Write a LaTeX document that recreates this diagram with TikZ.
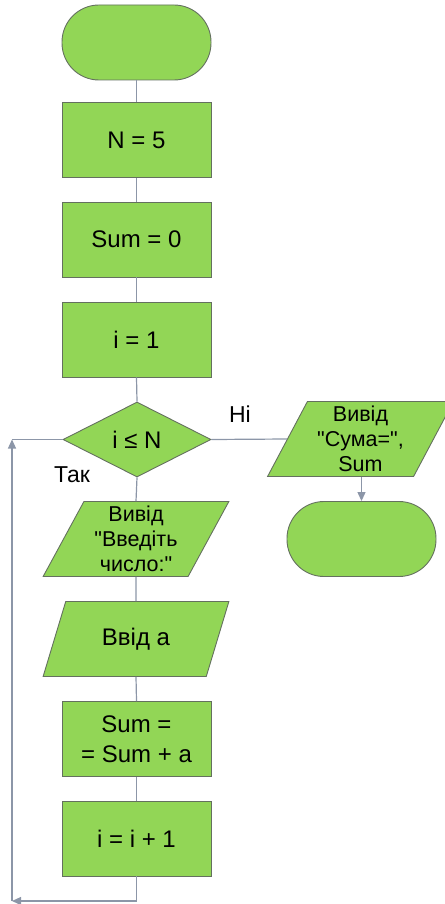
\documentclass[tikz,border=0pt]{standalone}
\usepackage{fontspec}
% plain family: keeps the straight " character
\newfontfamily\diagfont{Liberation Sans}
\usetikzlibrary{shapes.geometric,arrows.meta}
\definecolor{boxfill}{RGB}{146,214,86}
\definecolor{boxline}{RGB}{100,112,95}
\definecolor{wire}{RGB}{140,150,168}
\tikzset{
  shapebase/.style={draw=boxline, fill=boxfill, line width=0.9pt, inner sep=0pt,
    align=center, font=\diagfont\fontsize{24}{30}\selectfont},
  procbox/.style={shapebase, rectangle, minimum width=149pt, minimum height=75pt},
  termbox/.style={shapebase, rectangle, rounded corners=37pt,
    minimum width=149pt, minimum height=75pt},
  decbox/.style={shapebase, diamond, minimum width=148pt, minimum height=75pt},
  iobox/.style={shapebase, trapezium, trapezium left angle=63.7,
    trapezium right angle=116.3, trapezium stretches=true,
    minimum width=186pt, minimum height=75pt},
  iotext/.style={font=\diagfont\fontsize{21.5}{25}\selectfont},
  wireline/.style={draw=wire, line width=1.2pt},
  wirearrow/.style={wireline, -{Triangle[length=9pt,width=8pt]}},
  tag/.style={font=\diagfont\fontsize{23}{28}\selectfont}
}
\begin{document}
\begin{tikzpicture}[x=1pt,y=-1pt]
\useasboundingbox (0,0) rectangle (444,904);

% main column
\node[termbox]  (start) at (136.5,42.5) {};
\node[procbox]  (n)     at (136.5,140)  {N = 5};
\node[procbox]  (s)     at (136.5,239.5){Sum = 0};
\node[procbox]  (i)     at (136.5,339.5){i = 1};
\node[decbox]   (cond)  at (137,439.5)  {i ≤ N};
\node[iobox,iotext] (out) at (136,539)  {Вивід\\"Введіть\\число:"};
\node[iobox]    (inp)   at (136,639)    {Ввід a};
\node[procbox]  (add)   at (136.5,739)  {Sum =\\= Sum + a};
\node[procbox]  (inc)   at (136.5,838.5){i = i + 1};

% exit branch
\node[iobox,iotext] (res) at (360.5,439) {Вивід\\"Сума=",\\Sum};
\node[termbox]  (stop)  at (361.5,539)  {};

% loop corners
\coordinate (cb) at (12,901);
\coordinate (ct) at (12,439.5);

% labels
\node[tag] (yes) at (72,475) {Так};
\node[tag] (no)  at (240,414) {Ні};

% connectors
\draw[wireline] (start.south) -- (n.north);
\draw[wireline] (n.south) -- (s.north);
\draw[wireline] (s.south) -- (i.north);
\draw[wireline] (i.south) -- (cond.north);
\draw[wireline] (cond.south) -- (out.north);
\draw[wireline] (out.south) -- (inp.north);
\draw[wireline] (inp.south) -- (add.north);
\draw[wireline] (add.south) -- (inc.north);
\draw[wireline] (cond.east) -- (res.west);
\draw[wirearrow] (stop.north |- res.south) -- (stop.north);
\draw[wirearrow] (inc.south) |- (cb);
\draw[wirearrow] (cb) -- (ct);
\draw[wireline] (ct) -- (cond.west);
\end{tikzpicture}
\end{document}
